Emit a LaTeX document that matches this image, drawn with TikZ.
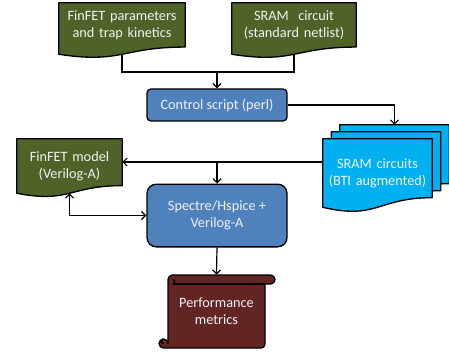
\documentclass[tikz,border=0pt]{standalone}
\usepackage{fontspec}
\setmainfont{Carlito}
\usetikzlibrary{calc,arrows.meta,backgrounds}

\definecolor{olivedoc}{HTML}{4F6228}
\definecolor{stepblue}{HTML}{4F81BD}
\definecolor{sramcyan}{HTML}{00B0F0}
\definecolor{scrollred}{HTML}{632523}
\definecolor{lighttext}{HTML}{F2F2F2}

\tikzset{
  outline/.style={draw=black, line width=1pt, line join=round},
  docnode/.style={inner sep=0pt, align=center, text=lighttext, font=\fontsize{10.7}{12.6}\selectfont},
  stepbox/.style={outline, fill=stepblue, align=center, text=lighttext, inner sep=0pt,
    font=\fontsize{10.7}{12.6}\selectfont},
  link/.style={draw=black, line width=0.9pt},
  tip/.style={link, -{Straight Barb[length=3pt,width=6pt]}},
  twotip/.style={link, {Straight Barb[length=3pt,width=6pt]}-{Straight Barb[length=3pt,width=6pt]}},
}

% flowchart "document" outline around a named node; its south anchor sits on the wave
\newcommand\docoutline[2]{%
  \begin{pgfonlayer}{background}
    \path[outline, fill=#2] (#1.north west) -- (#1.north east)
      -- ($(#1.north east)!0.86!(#1.south east)$)
      .. controls ($(#1.north)!0.86!(#1.south)$) and ($(#1.north)!1.188!(#1.south)$) .. (#1.south west)
      -- cycle;
  \end{pgfonlayer}}

\begin{document}
\begin{tikzpicture}[x=0.75pt, y=-0.75pt]
\useasboundingbox (0,0) rectangle (449,356);

% inputs
\node[docnode, minimum width=94.5pt, minimum height=38.25pt, text width=90pt, text depth=19pt] (params) at (122,28.5)
  {FinFET parameters\\and trap kinetics};
\docoutline{params}{olivedoc}
\node[docnode, minimum width=93pt, minimum height=38.25pt, text width=90pt, text depth=19pt] (netlist) at (294,28.5)
  {SRAM\ \ circuit\\(standard netlist)};
\docoutline{netlist}{olivedoc}

% control script
\node[stepbox, rounded corners=3pt, minimum width=105pt, minimum height=24pt] (ctl) at (217,105)
  {Control script (perl)};

% stack of augmented SRAM netlists
\node[docnode, minimum width=81.75pt, minimum height=51pt] (sram3) at (394.5,159) {};
\docoutline{sram3}{sramcyan}
\node[docnode, minimum width=81.75pt, minimum height=51pt] (sram2) at (386,166) {};
\docoutline{sram2}{sramcyan}
\node[docnode, minimum width=81.75pt, minimum height=51pt, text width=80pt] (sram) at (377.5,173)
  {SRAM circuits\\(BTI augmented)};
\docoutline{sram}{sramcyan}

% device model
\node[docnode, minimum width=78.75pt, minimum height=40.5pt, text width=76pt] (model) at (69.5,166)
  {FinFET model\\(Verilog-A)};
\docoutline{model}{olivedoc}

% simulator
\node[stepbox, rounded corners=7pt, minimum width=105pt, minimum height=47pt] (spectre) at (217,215.5)
  {Spectre/Hspice +\\Verilog-A};

% results scroll
\node[docnode, minimum width=87.75pt, minimum height=54.75pt] (perf) at (216.5,311.5)
  {Performance\\metrics};
\begin{pgfonlayer}{background}
  \path[outline, fill=scrollred]
    (168,279.5) -- (168,343.5) arc[start angle=360, end angle=90, radius=4.5]
    -- (261,348) arc[start angle=90, end angle=0, radius=4]
    -- (265,284) -- (270.5,284) arc[start angle=90, end angle=-90, radius=4.5]
    -- (172.5,275) arc[start angle=270, end angle=180, radius=4.5] -- cycle;
  \draw[outline] (172.5,284) -- (265,284);
  \draw[outline] (172.5,284) arc[start angle=90, end angle=-90, radius=2.25];
  \draw[outline] (163.5,339) arc[start angle=270, end angle=90, radius=2.25];
\end{pgfonlayer}

% connectors
\coordinate (join) at (217,72);
\draw[link] (params.south) |- (join) -| (netlist.south);
\draw[tip] (join) -- (ctl.north);
\draw[tip] (ctl.east) -| (sram3.north);
\coordinate (bus) at (217,162);
\draw[tip] (sram.west |- bus) -- (model.east |- bus);
\draw[tip] (bus) -- (spectre.north);
\draw[twotip] (model.south) |- (spectre.west);
\draw[tip] (spectre.south) -- (perf.north);
\end{tikzpicture}
\end{document}
